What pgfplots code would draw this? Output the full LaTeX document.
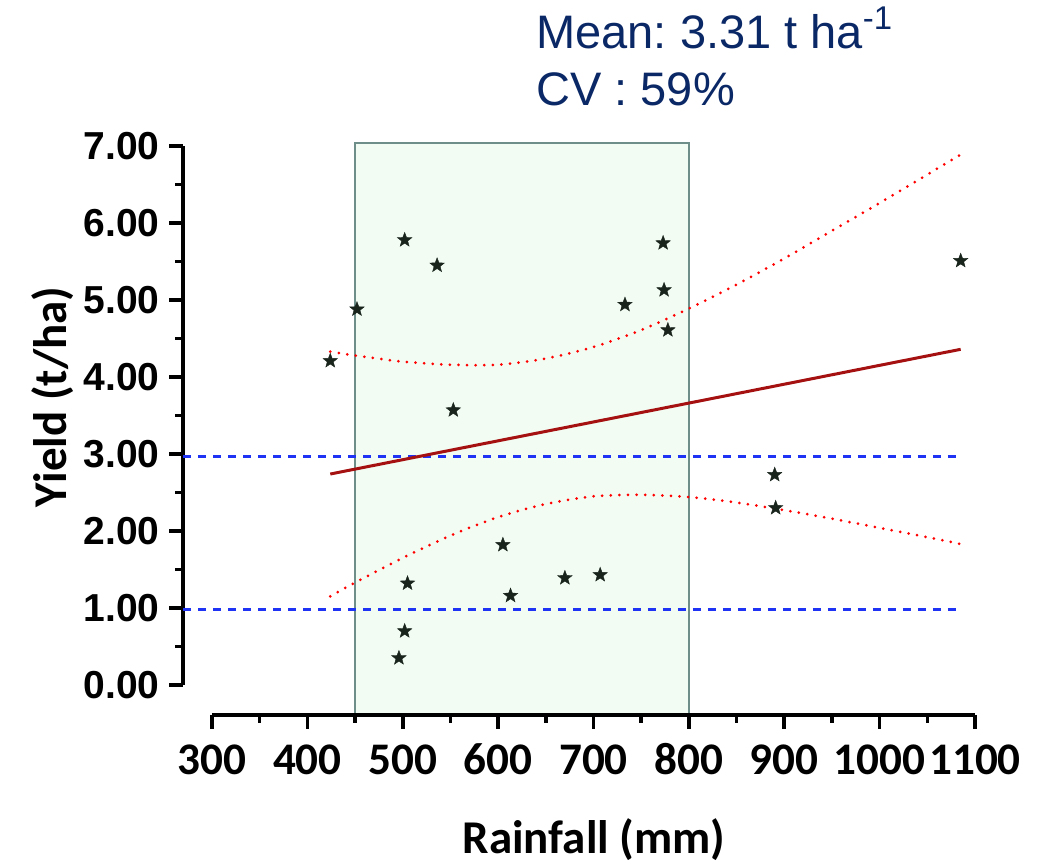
\documentclass[border=0pt]{standalone}
\usepackage{fontspec}
\setmainfont{Liberation Sans}
\newfontfamily\calibri{Carlito}
\usepackage{pgfplots}
\pgfplotsset{compat=1.18}

\definecolor{navytxt}{HTML}{0B2866}
\definecolor{boxfill}{HTML}{F2FCF2}
\definecolor{boxdraw}{HTML}{6E8E8A}
\definecolor{fitred}{HTML}{A51010}
\definecolor{dashblue}{HTML}{1F33F5}
\definecolor{starcol}{HTML}{18241C}

% filled five-pointed star
\pgfdeclareplotmark{fstar}{%
  \pgfpathmoveto{\pgfpointpolar{90}{\pgfplotmarksize}}%
  \pgfpathlineto{\pgfpointpolar{126}{0.42\pgfplotmarksize}}%
  \pgfpathlineto{\pgfpointpolar{162}{\pgfplotmarksize}}%
  \pgfpathlineto{\pgfpointpolar{198}{0.42\pgfplotmarksize}}%
  \pgfpathlineto{\pgfpointpolar{234}{\pgfplotmarksize}}%
  \pgfpathlineto{\pgfpointpolar{270}{0.42\pgfplotmarksize}}%
  \pgfpathlineto{\pgfpointpolar{306}{\pgfplotmarksize}}%
  \pgfpathlineto{\pgfpointpolar{342}{0.42\pgfplotmarksize}}%
  \pgfpathlineto{\pgfpointpolar{18}{\pgfplotmarksize}}%
  \pgfpathlineto{\pgfpointpolar{54}{0.42\pgfplotmarksize}}%
  \pgfpathclose\pgfusepathqfillstroke}

\pgfplotstableread{
x     y
424   4.21
452   4.88
502   5.78
536   5.45
553   3.57
502   0.70
505   1.32
496   0.35
605   1.82
613   1.16
670   1.39
707   1.43
733   4.94
773   5.74
774   5.13
778   4.61
890   2.73
891   2.30
1085  5.51
}\yielddata

% 95% band of the fit, read off the dotted curves
\pgfplotstableread{
x     up     lo
424   4.33   1.15
450   4.28   1.33
500   4.20   1.65
550   4.16   1.94
600   4.16   2.18
650   4.24   2.35
700   4.39   2.45
750   4.61   2.47
800   4.89   2.44
850   5.20   2.37
900   5.54   2.27
950   5.90   2.16
1000  6.26   2.04
1050  6.63   1.92
1085  6.89   1.83
}\banddata

\begin{document}
\begin{tikzpicture}
\begin{axis}[
    scale only axis, width=396pt, height=286pt,
    xmin=269.6, xmax=1100, ymin=-0.39, ymax=7.04,
    axis x line*=bottom, axis y line*=left,
    axis line style={draw=none},
    clip=false,
    xtick={300,400,500,600,700,800,900,1000,1100},
    xticklabels={300,400,500,600,700,800,900,{1000\hspace{17pt}},{1100\hspace{5pt}}},
    ytick={0,1,2,3,4,5,6,7},
    yticklabels={0.00,1.00,2.00,3.00,4.00,5.00,6.00,7.00},
    minor x tick num=1, minor y tick num=1,
    tick align=outside,
    major tick length=7pt, minor tick length=4pt,
    every tick/.style={black, line width=1.8pt},
    xticklabel style={font=\calibri\bfseries\fontsize{22.6}{23}\selectfont, inner sep=0pt,
        anchor=north, text height=14.2pt, text depth=0pt, yshift=-8.5pt},
    yticklabel style={font=\bfseries\fontsize{19.5}{20}\selectfont, inner sep=0pt, anchor=east, xshift=-4.5pt},
]
% rainfall window
\addplot[fill=boxfill, draw=boxdraw, line width=1pt] coordinates {
    (450,-0.39) (450,7.04) (800,7.04) (800,-0.39)} -- cycle;

% axis lines, Prism style (detached)
\draw[line width=2pt] (axis cs:269.6,0) -- (axis cs:269.6,7);
\draw[line width=2pt] (axis cs:300,-0.39) -- (axis cs:1100,-0.39);

\addplot[dashblue, line width=1.5pt, dash pattern=on 4pt off 3.5pt] coordinates {(269.6,2.97) (1082,2.97)};
\addplot[dashblue, line width=1.5pt, dash pattern=on 4pt off 3.5pt] coordinates {(269.6,0.98) (1082,0.98)};

\addplot[fitred, line width=1.5pt] coordinates {(424,2.74) (1085,4.36)};

\addplot[red, line width=1.5pt, line cap=round, dash pattern=on 0pt off 4.3pt, smooth] table[x=x, y=up] {\banddata};
\addplot[red, line width=1.5pt, line cap=round, dash pattern=on 0pt off 4.3pt, smooth] table[x=x, y=lo] {\banddata};

\addplot[only marks, mark=fstar, mark size=3.8pt, mark options={fill=starcol, draw=starcol, line width=0.2pt}] table[x=x, y=y] {\yielddata};

\node[anchor=base, inner sep=0pt, font=\calibri\bfseries\fontsize{23.5}{24}\selectfont] at (rel axis cs:0.519,-0.243) {Rainfall (mm)};
\node[rotate=90, anchor=base, inner sep=0pt, font=\calibri\bfseries\fontsize{23.5}{24}\selectfont] at (rel axis cs:-0.1465,0.556) {Yield (t/ha)};

\node[anchor=base west, inner sep=0pt, text=navytxt, font=\fontsize{23.5}{24}\selectfont\frenchspacing] at (rel axis cs:0.4457,1.166) {Mean: 3.31 t ha\textsuperscript{-1}};
\node[anchor=base west, inner sep=0pt, text=navytxt, font=\fontsize{23.5}{24}\selectfont\frenchspacing] at (rel axis cs:0.4457,1.066) {CV : 59\%};

\path (rel axis cs:-0.2311,-0.264) rectangle (rel axis cs:1.0922,1.25);
\end{axis}
\end{tikzpicture}
\end{document}
